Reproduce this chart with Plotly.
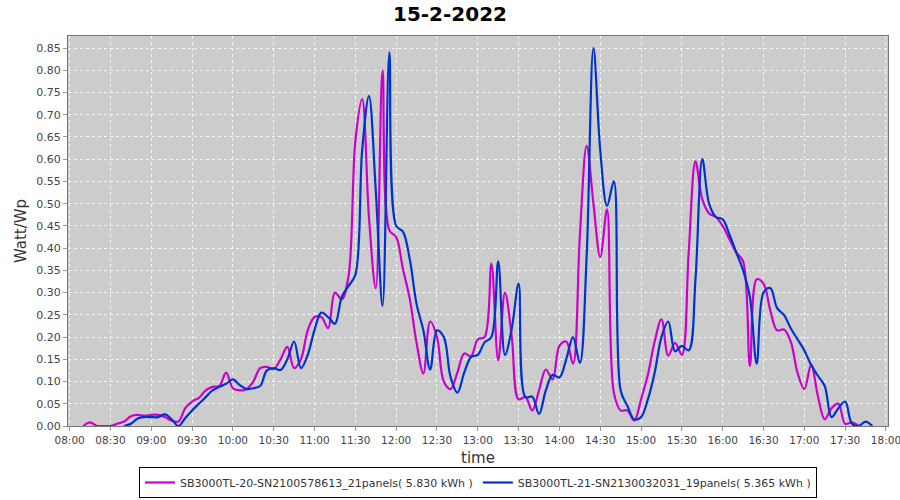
import plotly.graph_objects as go

DATE = "2022-02-15"

# minutes after 08:00, 5-minute samples
mag_minutes = list(range(10, 585, 5))
mag_values = [
    0.0, 0.008, 0.0, 0.0, 0.0, 0.005, 0.01, 0.022, 0.025, 0.023,   # 10-55
    0.025, 0.025, 0.02, 0.012, 0.01, 0.04, 0.055, 0.063, 0.08, 0.088,  # 60-105
    0.09, 0.12, 0.085, 0.08, 0.083, 0.1, 0.13, 0.133, 0.128, 0.15,  # 110-155
    0.178, 0.13, 0.15, 0.215, 0.245, 0.245, 0.22, 0.30, 0.285, 0.337,  # 160-205
    0.64, 0.735, 0.47, 0.31, 0.80, 0.44, 0.425, 0.353, 0.286, 0.187,  # 210-255
    0.118, 0.235, 0.20, 0.10, 0.083, 0.12, 0.163, 0.157, 0.195, 0.20,  # 260-305
    0.365, 0.148, 0.30, 0.20, 0.06, 0.065, 0.035, 0.08, 0.127, 0.105,  # 310-355
    0.18, 0.19, 0.14, 0.427, 0.63, 0.50, 0.38, 0.487, 0.075, 0.035,  # 360-405
    0.035, 0.012, 0.06, 0.115, 0.19, 0.24, 0.158, 0.187, 0.16, 0.39,  # 410-455
    0.595, 0.51, 0.478, 0.47, 0.45, 0.42, 0.39, 0.37, 0.135, 0.33,  # 460-505
    0.32, 0.26, 0.215, 0.217, 0.19, 0.12, 0.083, 0.138, 0.067, 0.015,  # 510-555
    0.04, 0.05, 0.005, 0.008, 0.0,  # 560-580
]

blue_minutes = list(range(40, 595, 5))
blue_values = [
    0.0, 0.005, 0.017, 0.02, 0.02, 0.02, 0.026, 0.015, 0.0, 0.018,  # 40-85
    0.035, 0.05, 0.065, 0.08, 0.088, 0.095, 0.105, 0.092, 0.083, 0.085,  # 90-135
    0.09, 0.125, 0.13, 0.126, 0.15, 0.19, 0.13, 0.16, 0.216, 0.255,  # 140-185
    0.245, 0.23, 0.29, 0.315, 0.34, 0.62, 0.742, 0.53, 0.27, 0.84,  # 190-235
    0.45, 0.437, 0.375, 0.274, 0.215, 0.127, 0.215, 0.20, 0.11, 0.075,  # 240-285
    0.12, 0.155, 0.16, 0.188, 0.20, 0.37, 0.16, 0.22, 0.32, 0.065,  # 290-335
    0.066, 0.027, 0.08, 0.115, 0.109, 0.15, 0.20, 0.142, 0.382, 0.85,  # 340-385
    0.62, 0.495, 0.55, 0.08, 0.045, 0.015, 0.02, 0.06, 0.12, 0.20,  # 390-435
    0.235, 0.168, 0.18, 0.17, 0.33, 0.60, 0.50, 0.47, 0.465, 0.43,  # 440-485
    0.39, 0.35, 0.29, 0.14, 0.30, 0.31, 0.265, 0.25, 0.22, 0.195,  # 490-535
    0.17, 0.137, 0.113, 0.09, 0.02, 0.04, 0.055, 0.005, 0.0, 0.01,  # 540-585
    0.0,  # 590
]

series_names = [
    "SB3000TL-20-SN2100578613_21panels( 5.830 kWh )",
    "SB3000TL-21-SN2130032031_19panels( 5.365 kWh )",
]
series_colors = ["#CC00CC", "#0033CC"]

y_ticks = [round(i * 0.05, 2) for i in range(18)]
y_tick_labels = [f"{v:.2f}" for v in y_ticks]
x_tick_minutes = list(range(0, 601, 30))


def to_time(m):
    return f"{DATE} {8 + m // 60:02d}:{m % 60:02d}:00"


x_tick_vals = [to_time(m) for m in x_tick_minutes]
x_tick_text = [f"{8 + m // 60:02d}:{m % 60:02d}" for m in x_tick_minutes]

fig = go.Figure()
for mins, vals, name, col in [
    (mag_minutes, mag_values, series_names[0], series_colors[0]),
    (blue_minutes, blue_values, series_names[1], series_colors[1]),
]:
    fig.add_trace(go.Scatter(
        x=[to_time(m) for m in mins], y=vals, name=name, mode="lines",
        line=dict(color=col, width=2.2, shape="spline", smoothing=1.0),
    ))

font_fam = "DejaVu Sans, Verdana, sans-serif"
grid_col = "rgba(255,255,255,0.8)"
fig.update_layout(
    width=900, height=500,
    margin=dict(l=68, r=12, t=36, b=74, autoexpand=False),
    paper_bgcolor="white", plot_bgcolor="#CCCCCC",
    font=dict(family=font_fam, size=11, color="#444444"),
    title=dict(text="<b>15-2-2022</b>", x=0.5, xanchor="center",
               yref="container", y=0.972, yanchor="middle",
               font=dict(size=20, color="black", family=font_fam)),
    showlegend=True,
    legend=dict(orientation="h", x=0.5, xanchor="center",
                yref="container", y=0.004, yanchor="bottom",
                bgcolor="white", bordercolor="black", borderwidth=1,
                font=dict(size=11, color="#333333"), itemwidth=30,
                tracegroupgap=0),
    xaxis=dict(
        type="date", range=[f"{DATE} 07:58:48", f"{DATE} 18:01:30"],
        tickmode="array", tickvals=x_tick_vals, ticktext=x_tick_text,
        ticklabeloverflow="allow", tickfont=dict(size=10.5),
        showgrid=True, gridcolor=grid_col, griddash="3px,3px", gridwidth=1,
        showline=True, linecolor="#777777", linewidth=1, mirror=True,
        ticks="outside", ticklen=4, tickcolor="#999999",
        title=dict(text="time", font=dict(size=15, color="#333333"), standoff=10),
        zeroline=False, automargin=False,
    ),
    yaxis=dict(
        range=[0, 0.877], tickmode="array", tickvals=y_ticks, ticktext=y_tick_labels,
        ticklabeloverflow="allow",
        showgrid=True, gridcolor=grid_col, griddash="3px,3px", gridwidth=1,
        showline=True, linecolor="#777777", linewidth=1, mirror=True,
        ticks="outside", ticklen=4, tickcolor="#999999",
        title=dict(text="Watt/Wp", font=dict(size=15, color="#333333"), standoff=6),
        zeroline=False, automargin=False,
    ),
)

fig.write_html("out.html", config={"displayModeBar": False},
               post_script="document.body.style.margin='0px';document.body.style.overflow='hidden';")
